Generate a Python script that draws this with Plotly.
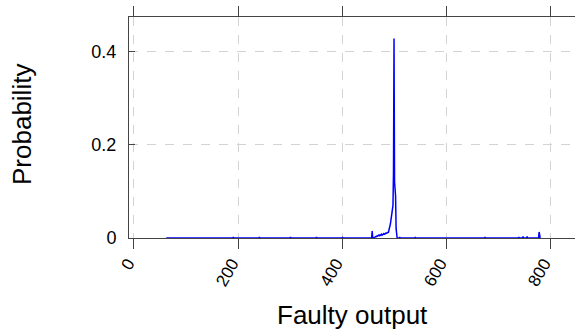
import plotly.graph_objects as go

# Faulty output values (x) and their probabilities (y)
faulty_output = [62, 190, 191, 192, 240, 241, 242, 300, 301, 302, 350, 351, 352,
                 400, 401, 402, 455, 456, 457, 458, 459, 460, 461, 462, 463, 464,
                 465, 466, 467, 468, 469, 470, 471, 472, 473, 474, 475, 476, 477,
                 478, 479, 480, 481, 482, 483, 484, 485, 486, 487, 488, 489, 490,
                 491, 492, 493, 494, 495, 496, 497, 498, 499, 500, 501, 502, 503,
                 504, 505, 506, 510, 511, 512, 540, 541, 542, 600, 650, 674, 675,
                 676, 739, 740, 741, 747, 748, 749, 755, 756, 757, 777, 778, 779,
                 780, 781]
probability = [0.0, 0.0, 0.002, 0.0, 0.0, 0.002, 0.0, 0.0, 0.002, 0.0, 0.0, 0.002, 0.0,
               0.0, 0.002, 0.0, 0.0, 0.0, 0.0, 0.015, 0.0, 0.001, 0.0, 0.001, 0.0, 0.001,
               0.002, 0.004, 0.003, 0.005, 0.004, 0.006, 0.005, 0.007, 0.005, 0.007, 0.006, 0.008, 0.006,
               0.008, 0.007, 0.009, 0.007, 0.010, 0.008, 0.011, 0.009, 0.012, 0.010, 0.013, 0.011, 0.015,
               0.020, 0.025, 0.030, 0.038, 0.045, 0.050, 0.060, 0.070, 0.141, 0.428, 0.120, 0.096, 0.090,
               0.020, 0.005, 0.0, 0.0, 0.002, 0.0, 0.0, 0.002, 0.0, 0.0, 0.0, 0.0, 0.002,
               0.0, 0.0, 0.002, 0.0, 0.0, 0.003, 0.0, 0.0, 0.003, 0.0, 0.0, 0.0, 0.013,
               0.0, 0.0]

x_ticks = [0, 200, 400, 600, 800]
y_ticks = [0, 0.2, 0.4]
y_tick_labels = ["0", "0.2", "0.4"]

font_family = "Liberation Sans, Arial, sans-serif"
W, H = 575, 333
L, T, B = 129, 17, 95

fig = go.Figure()
fig.add_trace(go.Scatter(
    x=faulty_output, y=probability, mode="lines",
    line=dict(color="#0000ff", width=1.5), showlegend=False,
))

axis_common = dict(
    showline=True, linecolor="#444444", linewidth=1,
    tickcolor="#444444", automargin=False, layer="below traces",
    showgrid=True, gridcolor="#d3d3d3", griddash="dash", gridwidth=1,
    zeroline=False,
)

pw, ph = W - L, H - T - B
fig.update_layout(
    width=W, height=H,
    margin=dict(l=L, r=0, t=T, b=B, autoexpand=False),
    plot_bgcolor="white", paper_bgcolor="white",
    font=dict(family=font_family),
    xaxis=dict(range=[-9.6, 848], tickvals=x_ticks, tickangle=-60, mirror="ticks",
               ticks="outside", ticklen=10, ticklabelshift=-6, ticklabelstandoff=-2,
               tickfont=dict(family=font_family, size=17, color="black"), **axis_common),
    yaxis=dict(range=[0, 0.474], tickvals=y_ticks, ticktext=y_tick_labels, mirror=False,
               ticks="inside", ticklen=6, ticklabelstandoff=8,
               tickfont=dict(family=font_family, size=18, color="black"), **axis_common),
    annotations=[
        dict(text="Faulty output", x=(352 - L) / pw, y=(H - B - 315) / ph,
             xref="paper", yref="paper", xanchor="center", yanchor="middle",
             showarrow=False, font=dict(family=font_family, size=26, color="black")),
        dict(text="Probability", x=(22 - L) / pw, y=(H - B - 125) / ph,
             xref="paper", yref="paper", xanchor="center", yanchor="middle",
             showarrow=False, textangle=-90,
             font=dict(family=font_family, size=26, color="black")),
    ],
)

fig.write_html("out.html", config={"displayModeBar": False},
               post_script="document.body.style.margin='0';document.body.style.padding='0';")
